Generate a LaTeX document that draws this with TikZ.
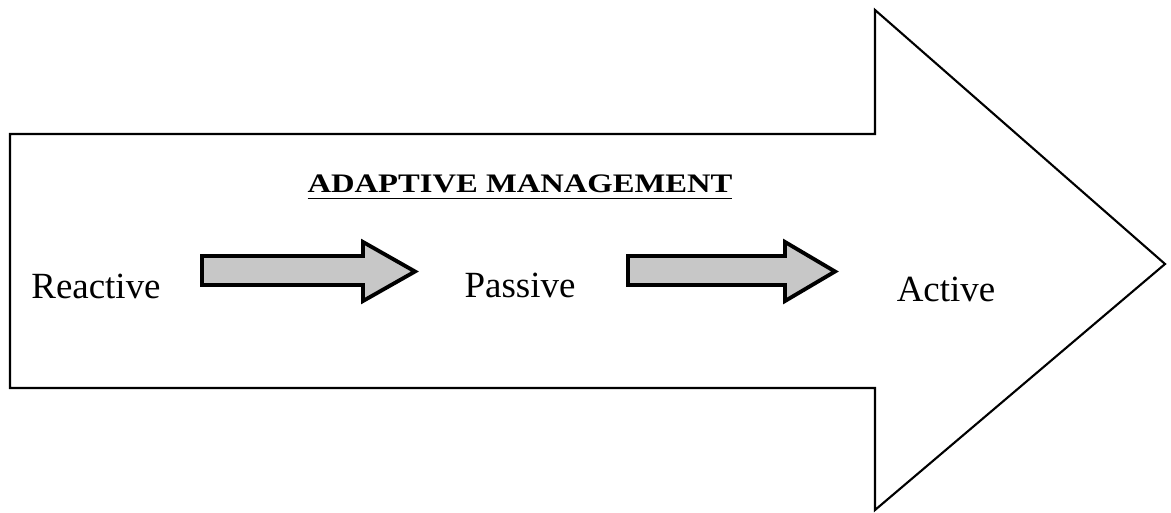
\documentclass[tikz,border=0pt]{standalone}
\usepackage{fontspec}
\setmainfont{Liberation Serif}
\usepackage{graphicx}
\usetikzlibrary{positioning}

\begin{document}
\begin{tikzpicture}[x=0.01cm,y=-0.01cm,
  lbl/.style={anchor=base,inner sep=0pt,font=\fontsize{10.5}{12}\selectfont},
  grayarrow/.style={draw=black,line width=1.1pt,fill=black!22,line join=miter}]

        \useasboundingbox (0,0) rectangle (1171,513);

        % the large outline arrow
        \draw[line width=0.6pt] (10,134) -- (875,134) -- (875,10) -- (1165,264)
              -- (875,510) -- (875,388) -- (10,388) -- cycle;

        \node[lbl] (title) at (520,193)
              {\scalebox{1.22}[1]{\fontsize{7.6}{9}\selectfont\bfseries\underline{ADAPTIVE MANAGEMENT}}};

        \node[lbl] (reactive) at (96,299) {Reactive};
        \node[lbl] (passive) at (520,298) {Passive};
        \node[lbl] (active) at (946,302) {Active};

        % small shaded arrows
        \draw[grayarrow] (202,256) -- (363,256) -- (363,242) -- (415,271.5)
              -- (363,301) -- (363,285) -- (202,285) -- cycle;
        \draw[grayarrow] (628,256) -- (785,256) -- (785,242) -- (835,271.5)
              -- (785,301) -- (785,285) -- (628,285) -- cycle;

\end{tikzpicture}
\end{document}
